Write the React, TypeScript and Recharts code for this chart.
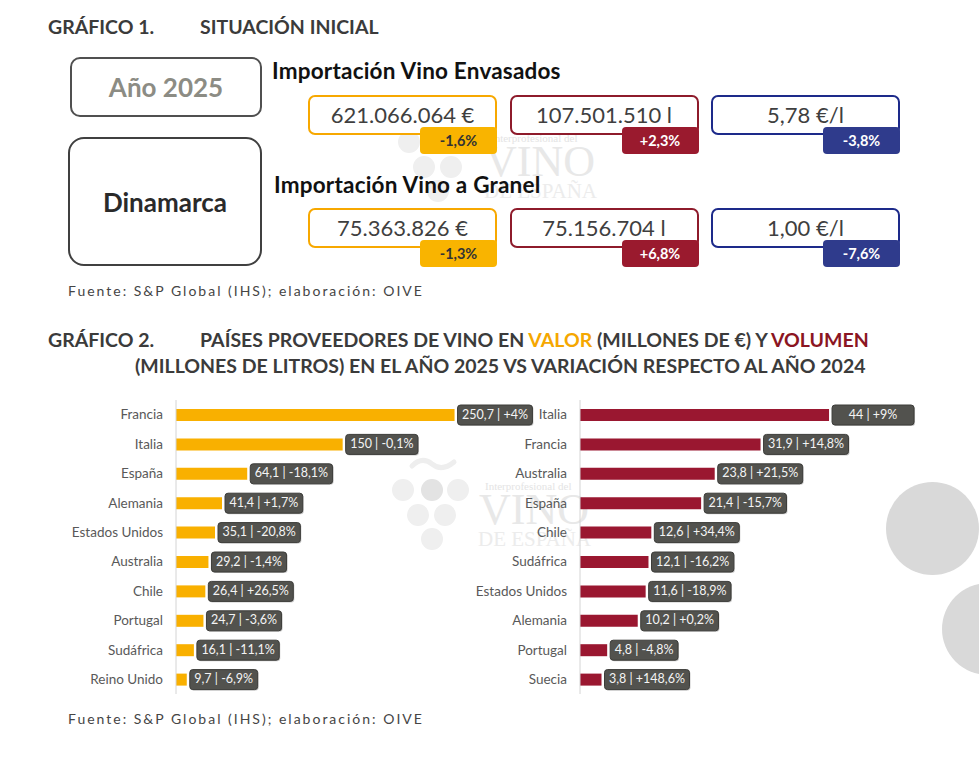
import { BarChart, Bar, XAxis, YAxis, LabelList } from "recharts";

// Gráfico 1: importación de Dinamarca, año 2025
const unidades = ["€", "l", "€/l"];
const envasadoCifras = [621066064, 107501510, 5.78];
const envasadoVariacion = [-1.6, 2.3, -3.8];
const granelCifras = [75363826, 75156704, 1.0];
const granelVariacion = [-1.3, 6.8, -7.6];

// Gráfico 2: valor (millones de €)
const valorPaises = ["Francia", "Italia", "España", "Alemania", "Estados Unidos", "Australia", "Chile", "Portugal", "Sudáfrica", "Reino Unido"];
const valorMillones = [250.7, 150, 64.1, 41.4, 35.1, 29.2, 26.4, 24.7, 16.1, 9.7];
const valorVariacion = [4, -0.1, -18.1, 1.7, -20.8, -1.4, 26.5, -3.6, -11.1, -6.9];

// Gráfico 2: volumen (millones de litros)
const volumenPaises = ["Italia", "Francia", "Australia", "España", "Chile", "Sudáfrica", "Estados Unidos", "Alemania", "Portugal", "Suecia"];
const volumenMillones = [44, 31.9, 23.8, 21.4, 12.6, 12.1, 11.6, 10.2, 4.8, 3.8];
const volumenVariacion = [9, 14.8, 21.5, -15.7, 34.4, -16.2, -18.9, 0.2, -4.8, 148.6];

const FUENTE = "Lato, 'Open Sans', sans-serif";
const AMARILLO = "#F9B000";
const GRANATE = "#9A1730";
const marcos = ["#F7A800", "#8E1B2B", "#1D2A8A"];
const fondosBadge = ["#F9B400", "#9A1A2E", "#2F3B8C"];
const textoBadge = ["#333333", "#ffffff", "#ffffff"];

const miles = (n: number) => Math.round(n).toString().replace(/\B(?=(\d{3})+(?!\d))/g, ".");
const decimal = (n: number) => String(n).replace(".", ",");
const pct = (n: number) => (n > 0 ? "+" : "") + decimal(n) + "%";
const cifra = (n: number, i: number) =>
  unidades[i] === "€/l" ? `${n.toFixed(2).replace(".", ",")} ${unidades[i]}` : `${miles(n)} ${unidades[i]}`;

const filas = (paises: string[], valores: number[], variacion: number[]) =>
  paises.map((pais, i) => ({
    pais,
    valor: valores[i],
    etiqueta: `${decimal(valores[i])} | ${pct(variacion[i])}`,
  }));

const valorData = filas(valorPaises, valorMillones, valorVariacion);
const volumenData = filas(volumenPaises, volumenMillones, volumenVariacion);

let lienzo: CanvasRenderingContext2D | null = null;
function anchoTexto(texto: string, font: string) {
  if (!lienzo) lienzo = document.createElement("canvas").getContext("2d");
  if (!lienzo) return texto.length * 6.4;
  lienzo.font = font;
  return lienzo.measureText(texto).width;
}

// caja gris oscura con "valor | variación" al final de cada barra
function Etiqueta(props: any) {
  const { x, y, width, height, value, minAncho = 0 } = props;
  const texto = String(value);
  const w = Math.max(minAncho, anchoTexto(texto, `12.5px ${FUENTE}`) + 9);
  const left = Number(x) + Number(width) + 3;
  const cy = Number(y) + Number(height) / 2;
  return (
    <g>
      <rect x={left + 1} y={cy - 9} width={w} height={20} rx={3} fill="#c8c8c8" />
      <rect x={left} y={cy - 10} width={w} height={20} rx={3} fill="#52524e" stroke="#3c3c39" strokeWidth={1} />
      <text x={left + w / 2} y={cy + 0.5} textAnchor="middle" dominantBaseline="middle" fill="#f4f4f4" fontSize={12.5} fontFamily={FUENTE}>
        {texto}
      </text>
    </g>
  );
}

function Marca({ left, top }: { left: number; top: number }) {
  const uvas = [
    [13, 38, "#efefef"], [42, 38, "#e3e3e3"], [68, 38, "#efefef"],
    [28, 63, "#efefef"], [55, 63, "#efefef"],
    [42, 87, "#efefef"],
  ] as const;
  return (
    <svg width={220} height={120} style={{ position: "absolute", left, top }}>
      <path d="M22 14 Q32 4 42 12 T64 10" stroke="#eeeeee" strokeWidth={5} fill="none" strokeLinecap="round" />
      {uvas.map(([cx, cy, c], i) => (
        <circle key={i} cx={cx} cy={cy} r={11} fill={c} />
      ))}
      <text x={95} y={38} fontFamily="'Liberation Serif', serif" fontSize={11} fill="#e4e4e4">Interprofesional del</text>
      <text x={89} y={72} fontFamily="'Liberation Serif', serif" fontSize={44} fill="#e8e8e8">VINO</text>
      <text x={88} y={94} fontFamily="'Liberation Serif', serif" fontSize={21} fill="#ececec">DE ESPAÑA</text>
    </svg>
  );
}

function Cifra({ left, top, i, valor, variacion }: { left: number; top: number; i: number; valor: number; variacion: number }) {
  return (
    <>
      <div
        style={{
          position: "absolute", left, top, width: 189, height: 40, boxSizing: "border-box",
          border: `2px solid ${marcos[i]}`, borderRadius: 7, background: "#fff",
          display: "flex", alignItems: "center", justifyContent: "center",
          fontSize: 22, color: "#3f3f3f", paddingBottom: 2,
        }}
      >
        {cifra(valor, i)}
      </div>
      <div
        style={{
          position: "absolute", left: left + 112, top: top + 32, width: 77, height: 27,
          background: fondosBadge[i], borderRadius: 4, color: textoBadge[i],
          fontWeight: 700, fontSize: 14.5, display: "flex", alignItems: "center", justifyContent: "center",
        }}
      >
        {pct(variacion)}
      </div>
    </>
  );
}

const abs = (left: number, top: number, extra: React.CSSProperties = {}): React.CSSProperties => ({
  position: "absolute", left, top, whiteSpace: "nowrap", ...extra,
});

export default function App() {
  const titulo: React.CSSProperties = { fontWeight: 700, fontSize: 19.5, color: "#3b3b3b", lineHeight: "24px" };
  const subtitulo: React.CSSProperties = { fontWeight: 700, fontSize: 22.5, color: "#111", lineHeight: "26px", letterSpacing: 0.2 };
  const fuente: React.CSSProperties = { fontSize: 14, color: "#454545", letterSpacing: 2, lineHeight: "16px" };
  const columnas = [308, 509.5, 711];
  return (
    <div style={{ position: "absolute", left: 0, top: 0, width: 979, height: 762, background: "#fff", overflow: "hidden", fontFamily: FUENTE }}>
      <Marca left={396} top={104} />
      <Marca left={390} top={452} />

      {/* Gráfico 1 */}
      <div style={abs(48, 15, titulo)}>GRÁFICO 1.</div>
      <div style={abs(200, 15, titulo)}>SITUACIÓN INICIAL</div>

      <div style={{ position: "absolute", left: 70, top: 57, width: 192, height: 60, boxSizing: "border-box", border: "2px solid #505050", borderRadius: 10, display: "flex", alignItems: "center", justifyContent: "center", fontWeight: 700, fontSize: 26, color: "#8c8c84" }}>
        Año 2025
      </div>
      <div style={{ position: "absolute", left: 68, top: 137, width: 194, height: 129, boxSizing: "border-box", border: "2px solid #404040", borderRadius: 16, display: "flex", alignItems: "center", justifyContent: "center", fontWeight: 700, fontSize: 26, color: "#2a2a2a" }}>
        Dinamarca
      </div>

      <div style={abs(272, 58, subtitulo)}>Importación Vino Envasados</div>
      <div style={abs(274, 172, subtitulo)}>Importación Vino a Granel</div>

      {columnas.map((left, i) => (
        <Cifra key={`e${i}`} left={left} top={95} i={i} valor={envasadoCifras[i]} variacion={envasadoVariacion[i]} />
      ))}
      {columnas.map((left, i) => (
        <Cifra key={`g${i}`} left={left} top={208} i={i} valor={granelCifras[i]} variacion={granelVariacion[i]} />
      ))}

      <div style={abs(68, 283, fuente)}>Fuente: S&amp;P Global (IHS); elaboración: OIVE</div>

      {/* Gráfico 2 */}
      <div style={abs(48, 328, titulo)}>GRÁFICO 2.</div>
      <div style={abs(200, 328, titulo)}>
        PAÍSES PROVEEDORES DE VINO EN <span style={{ color: "#F5A700" }}>VALOR</span> (MILLONES DE €) Y{" "}
        <span style={{ color: "#8B1522" }}>VOLUMEN</span>
      </div>
      <div style={abs(135, 354, titulo)}>(MILLONES DE LITROS) EN EL AÑO 2025 VS VARIACIÓN RESPECTO AL AÑO 2024</div>

      {/* círculos decorativos */}
      <div style={{ position: "absolute", left: 886, top: 482, width: 93, height: 93, borderRadius: "50%", background: "#d9d9d9" }} />
      <div style={{ position: "absolute", left: 942, top: 583, width: 92, height: 92, borderRadius: "50%", background: "#d9d9d9" }} />

      <div style={{ position: "absolute", left: 0, top: 400 }}>
        <BarChart width={560} height={294} layout="vertical" data={valorData} margin={{ top: 0, right: 84, bottom: 0, left: 0 }}>
          <XAxis type="number" hide domain={[0, 270]} />
          <YAxis
            type="category"
            dataKey="pais"
            width={176}
            tickLine={false}
            tickSize={0}
            tickMargin={13}
            axisLine={{ stroke: "#d4d4d4" }}
            tick={{ fill: "#595959", fontSize: 13.5, fontFamily: FUENTE }}
          />
          <Bar dataKey="valor" fill={AMARILLO} barSize={12} isAnimationActive={false}>
            <LabelList dataKey="etiqueta" content={(p: any) => <Etiqueta {...p} />} />
          </Bar>
        </BarChart>
      </div>

      <div style={{ position: "absolute", left: 400, top: 400 }}>
        <BarChart width={579} height={294} layout="vertical" data={volumenData} margin={{ top: 0, right: 116, bottom: 0, left: 0 }}>
          <XAxis type="number" hide domain={[0, 50]} />
          <YAxis
            type="category"
            dataKey="pais"
            width={180}
            tickLine={false}
            tickSize={0}
            tickMargin={13}
            axisLine={{ stroke: "#d4d4d4" }}
            tick={{ fill: "#595959", fontSize: 13.5, fontFamily: FUENTE }}
          />
          <Bar dataKey="valor" fill={GRANATE} barSize={12} isAnimationActive={false}>
            <LabelList
              dataKey="etiqueta"
              content={(p: any) => <Etiqueta {...p} minAncho={p.index === 0 ? 82 : 0} />}
            />
          </Bar>
        </BarChart>
      </div>

      <div style={abs(68, 711, fuente)}>Fuente: S&amp;P Global (IHS); elaboración: OIVE</div>
    </div>
  );
}
